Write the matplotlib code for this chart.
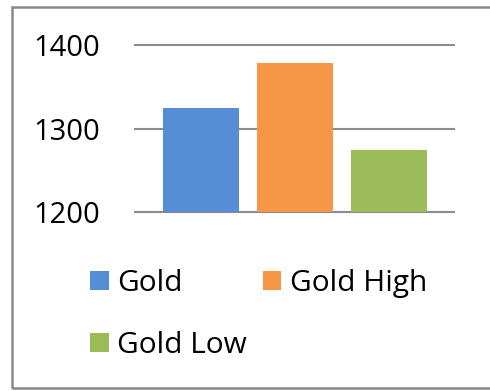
import matplotlib
matplotlib.use("Agg")
import matplotlib.pyplot as plt
from matplotlib.patches import Rectangle

series = ["Gold", "Gold High", "Gold Low"]
values = [1325, 1379, 1275]
colors = ["#558ED5", "#F79646", "#9BBB59"]
yticks = [1200, 1300, 1400]

plt.rcParams['font.family'] = ['Open Sans', 'DejaVu Sans']

W, H = 490, 391
fig = plt.figure(figsize=(W/100, H/100), dpi=100)
ax = fig.add_axes([135/W, 1-212.3/H, (454-135)/W, (212.3-45)/H])

xs = list(range(len(series)))
bars = []
for x, v, c, s in zip(xs, values, colors, series):
    b = ax.bar(x, v - yticks[0], bottom=yticks[0], width=0.81, color=c, label=s, zorder=3)
    bars.append(b)

ax.set_ylim(yticks[0], yticks[-1])
ax.set_xlim(-0.70, 2.69)
ax.set_yticks(yticks)
ax.set_yticklabels([str(t) for t in yticks], fontsize=21)
ax.set_xticks([])
ax.tick_params(axis='y', length=0, pad=25)
for sp in ax.spines.values():
    sp.set_visible(False)
ax.yaxis.grid(True, color="#8C8C8C", linewidth=1.5, zorder=0)
ax.set_axisbelow(True)
for gl in ax.get_ygridlines():
    gl.set_clip_on(False)

handles = [bars[0], bars[2], bars[1]]
labels = [series[0], series[2], series[1]]
leg = fig.legend(handles, labels, ncol=2, loc="upper left",
                 bbox_to_anchor=(90/W, 1-269/H), frameon=False, fontsize=21.5,
                 handlelength=0.62, handleheight=0.62, handletextpad=0.3,
                 columnspacing=0.52, labelspacing=1.1, borderaxespad=0, borderpad=0)

fig.patches.append(Rectangle((12/W, 1-388/H), 1.0, (388-7)/H, transform=fig.transFigure,
                             fill=False, edgecolor="#898989", linewidth=1.8))

fig.savefig("out.png", dpi=100)
